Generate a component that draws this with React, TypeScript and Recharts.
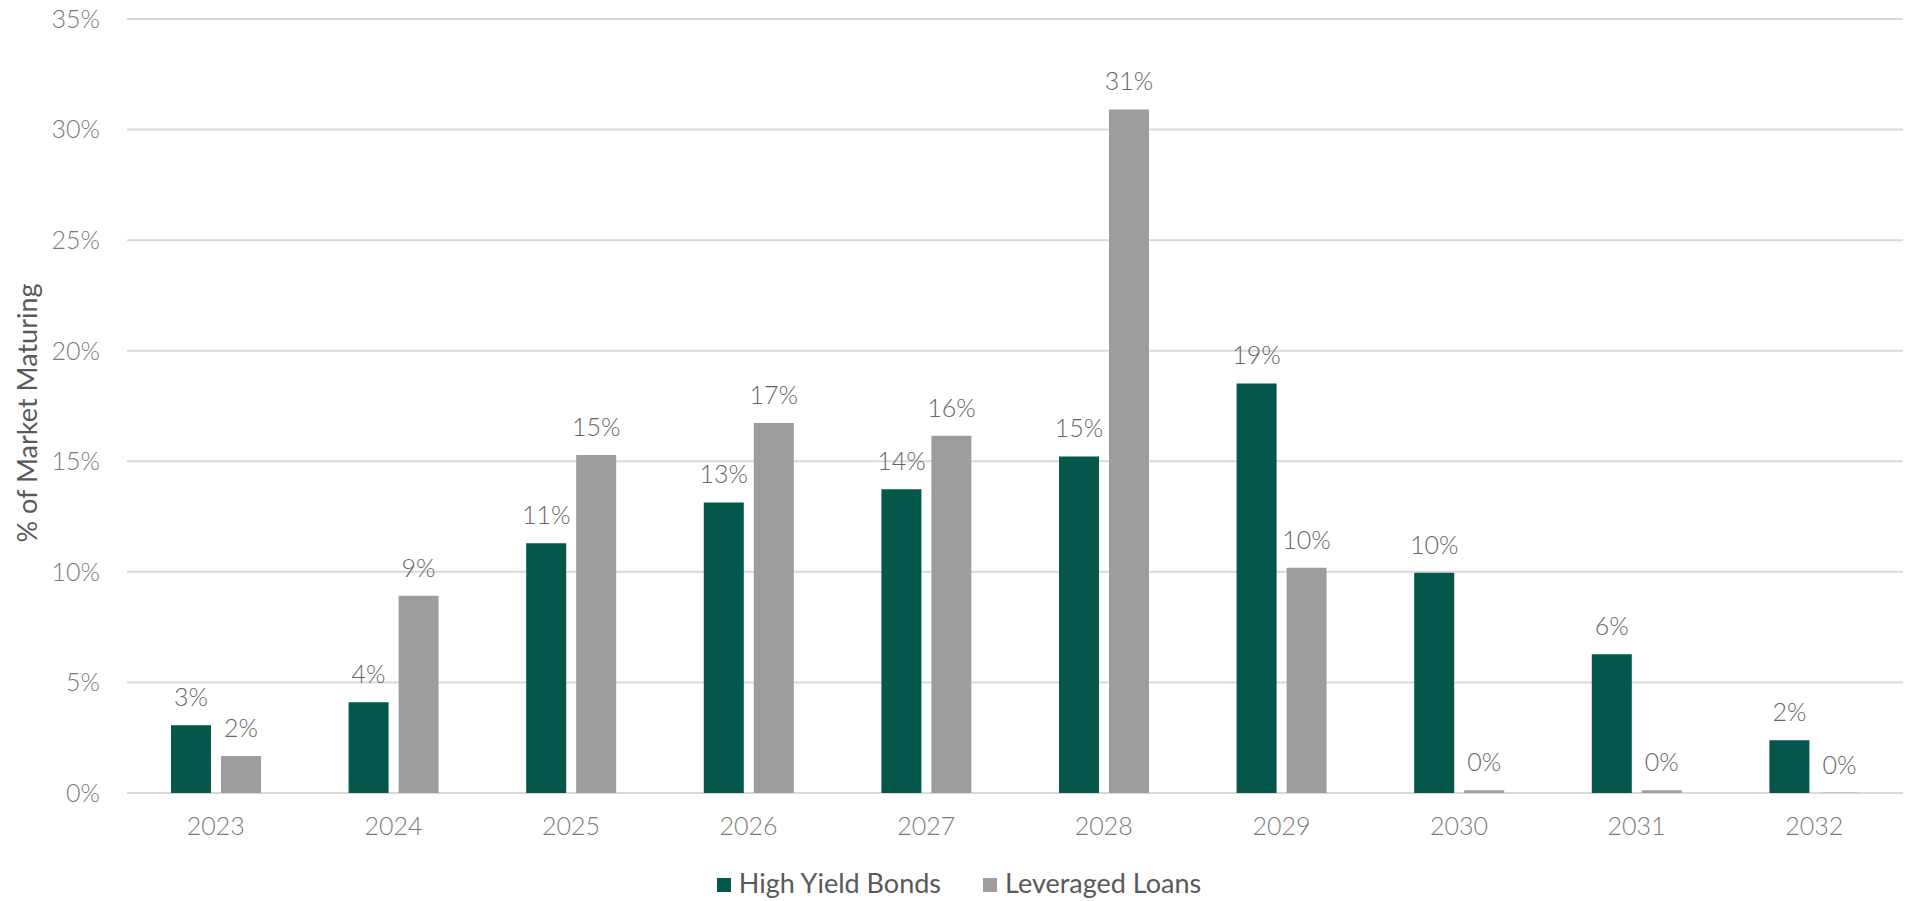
import { BarChart, Bar, XAxis, YAxis, CartesianGrid, LabelList, Legend, Label } from "recharts";

const years = ["2023", "2024", "2025", "2026", "2027", "2028", "2029", "2030", "2031", "2032"];
const highYieldBonds = [3.06, 4.1, 11.29, 13.14, 13.73, 15.22, 18.52, 9.96, 6.27, 2.38];
const leveragedLoans = [1.67, 8.92, 15.28, 16.73, 16.15, 30.91, 10.19, 0.12, 0.12, 0.01];
const yTicks = [0, 5, 10, 15, 20, 25, 30, 35];

const GREEN = "#04574A";
const GREY = "#9C9D9F";
const FONT = "Lato, 'Open Sans', sans-serif";

const data = years.map((year, i) => ({
  year,
  hy: highYieldBonds[i],
  ll: leveragedLoans[i],
}));

const pct = (v: number) => `${Math.round(v)}%`;

function LegendContent() {
  const items = [
    { name: "High Yield Bonds", color: GREEN },
    { name: "Leveraged Loans", color: GREY },
  ];
  return (
    <div
      style={{
        display: "flex",
        justifyContent: "center",
        alignItems: "center",
        height: 30,
        fontFamily: FONT,
        fontSize: 27,
        color: "#595959",
      }}
    >
      {items.map((it, i) => (
        <div
          key={it.name}
          style={{ display: "flex", alignItems: "center", marginLeft: i ? 42 : 0 }}
        >
          <span
            style={{
              display: "inline-block",
              width: 14,
              height: 14,
              background: it.color,
              marginRight: 8,
              marginTop: 5,
            }}
          />
          <span>{it.name}</span>
        </div>
      ))}
    </div>
  );
}

export default function App() {
  return (
    <div style={{ position: "absolute", left: 0, top: 0, background: "#fff" }}>
      <BarChart
        width={1907}
        height={901}
        data={data}
        barSize={40}
        barGap={10}
        margin={{ top: 19, right: 4, left: 0, bottom: 0 }}
      >
        <CartesianGrid vertical={false} stroke="#d9d9d9" strokeWidth={2} />
        <XAxis
          dataKey="year"
          axisLine={false}
          tickLine={false}
          tickMargin={18}
          height={78}
          tick={{ fill: "#7a7a7a", fontSize: 25, fontFamily: FONT, fontWeight: 300 }}
        />
        <YAxis
          width={127}
          domain={[0, 35]}
          ticks={yTicks}
          axisLine={false}
          tickLine={false}
          tickMargin={21}
          tickFormatter={(v: number) => `${v}%`}
          tick={{ fill: "#7a7a7a", fontSize: 25, fontFamily: FONT, fontWeight: 300 }}
        >
          <Label
            content={() => (
              <text
                x={37}
                y={413}
                transform="rotate(-90, 37, 413)"
                textAnchor="middle"
                fill="#595959"
                fontSize={27}
                fontFamily={FONT}
              >
                % of Market Maturing
              </text>
            )}
          />
        </YAxis>
        <Legend
          verticalAlign="bottom"
          content={() => <LegendContent />}
          wrapperStyle={{ left: 0, width: 1918, bottom: 4 }}
        />
        <Bar dataKey="hy" name="High Yield Bonds" fill={GREEN} isAnimationActive={false}>
          <LabelList
            dataKey="hy"
            position="top"
            offset={19}
            formatter={pct}
            fill="#666"
            fontSize={25}
            fontFamily={FONT}
            fontWeight={300}
          />
        </Bar>
        <Bar dataKey="ll" name="Leveraged Loans" fill={GREY} isAnimationActive={false}>
          <LabelList
            dataKey="ll"
            position="top"
            offset={19}
            formatter={pct}
            fill="#666"
            fontSize={25}
            fontFamily={FONT}
            fontWeight={300}
          />
        </Bar>
      </BarChart>
    </div>
  );
}
